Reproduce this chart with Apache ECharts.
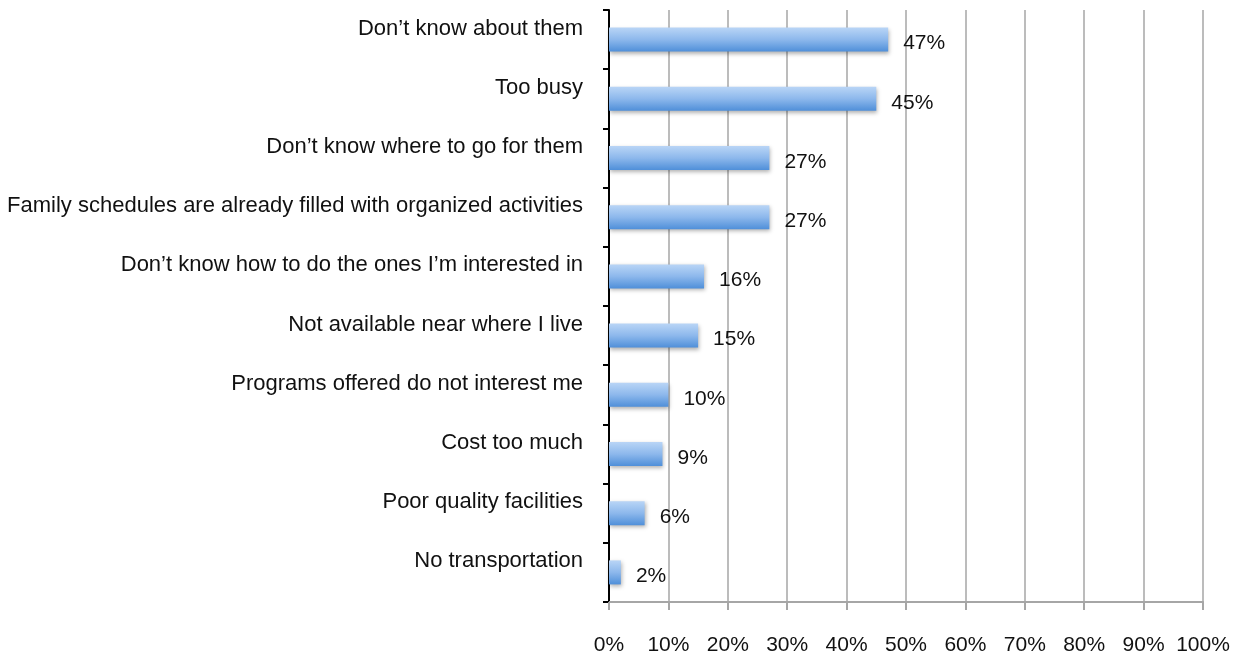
<!DOCTYPE html>
<html>
<head>
<meta charset="utf-8">
<script src="https://cdn.jsdelivr.net/npm/echarts@6/dist/echarts.min.js"></script>
<style>html,body{margin:0;padding:0;background:#fff}#c{width:1237px;height:660px}</style>
</head>
<body>
<div id="c"></div>
<script>
const categories = [
  "Don\u2019t know about them",
  "Too busy",
  "Don\u2019t know where to go for them",
  "Family schedules are already filled with organized activities",
  "Don\u2019t know how to do the ones I\u2019m interested in",
  "Not available near where I live",
  "Programs offered do not interest me",
  "Cost too much",
  "Poor quality facilities",
  "No transportation"
];
const values = [47, 45, 27, 27, 16, 15, 10, 9, 6, 2];
const xTicks = [0, 10, 20, 30, 40, 50, 60, 70, 80, 90, 100];

const chart = echarts.init(document.getElementById('c'));
const font = 'Liberation Sans, Arial, sans-serif';
chart.setOption({
  animation: false,
  grid: { left: 609, right: 34, top: 10, bottom: 58, containLabel: false },
  xAxis: {
    type: 'value', min: xTicks[0], max: xTicks[xTicks.length - 1], interval: 10,
    axisLine: { show: true, lineStyle: { color: '#a6a6a6', width: 2 } },
    axisTick: { show: true, length: 8, lineStyle: { color: '#a6a6a6', width: 2 } },
    splitLine: { show: true, lineStyle: { color: '#a6a6a6', width: 1.5 } },
    axisLabel: { margin: 33, fontSize: 21, color: '#111', fontFamily: font, formatter: v => v + '%' }
  },
  yAxis: {
    type: 'category', inverse: true, data: categories,
    axisLine: { show: true, lineStyle: { color: '#000', width: 2 } },
    axisTick: { show: true, length: 6, lineStyle: { color: '#000', width: 2 } },
    axisLabel: { margin: 26, fontSize: 22, color: '#111', fontFamily: font, verticalAlign: 'bottom', lineHeight: 22 }
  },
  series: [{
    type: 'bar', data: values, barWidth: 24,
    itemStyle: {
      color: new echarts.graphic.LinearGradient(0, 0, 0, 1, [
        { offset: 0, color: '#b9d5f6' },
        { offset: 0.5, color: '#8db8ec' },
        { offset: 1, color: '#4f8fd9' }
      ]),
      shadowColor: 'rgba(0,0,0,0.3)', shadowBlur: 4, shadowOffsetX: 1, shadowOffsetY: 2
    },
    label: {
      show: true, position: 'right', distance: 15, offset: [0, 4],
      fontSize: 21, color: '#111', fontFamily: font, formatter: p => p.value + '%'
    }
  }]
});
</script>
</body>
</html>
